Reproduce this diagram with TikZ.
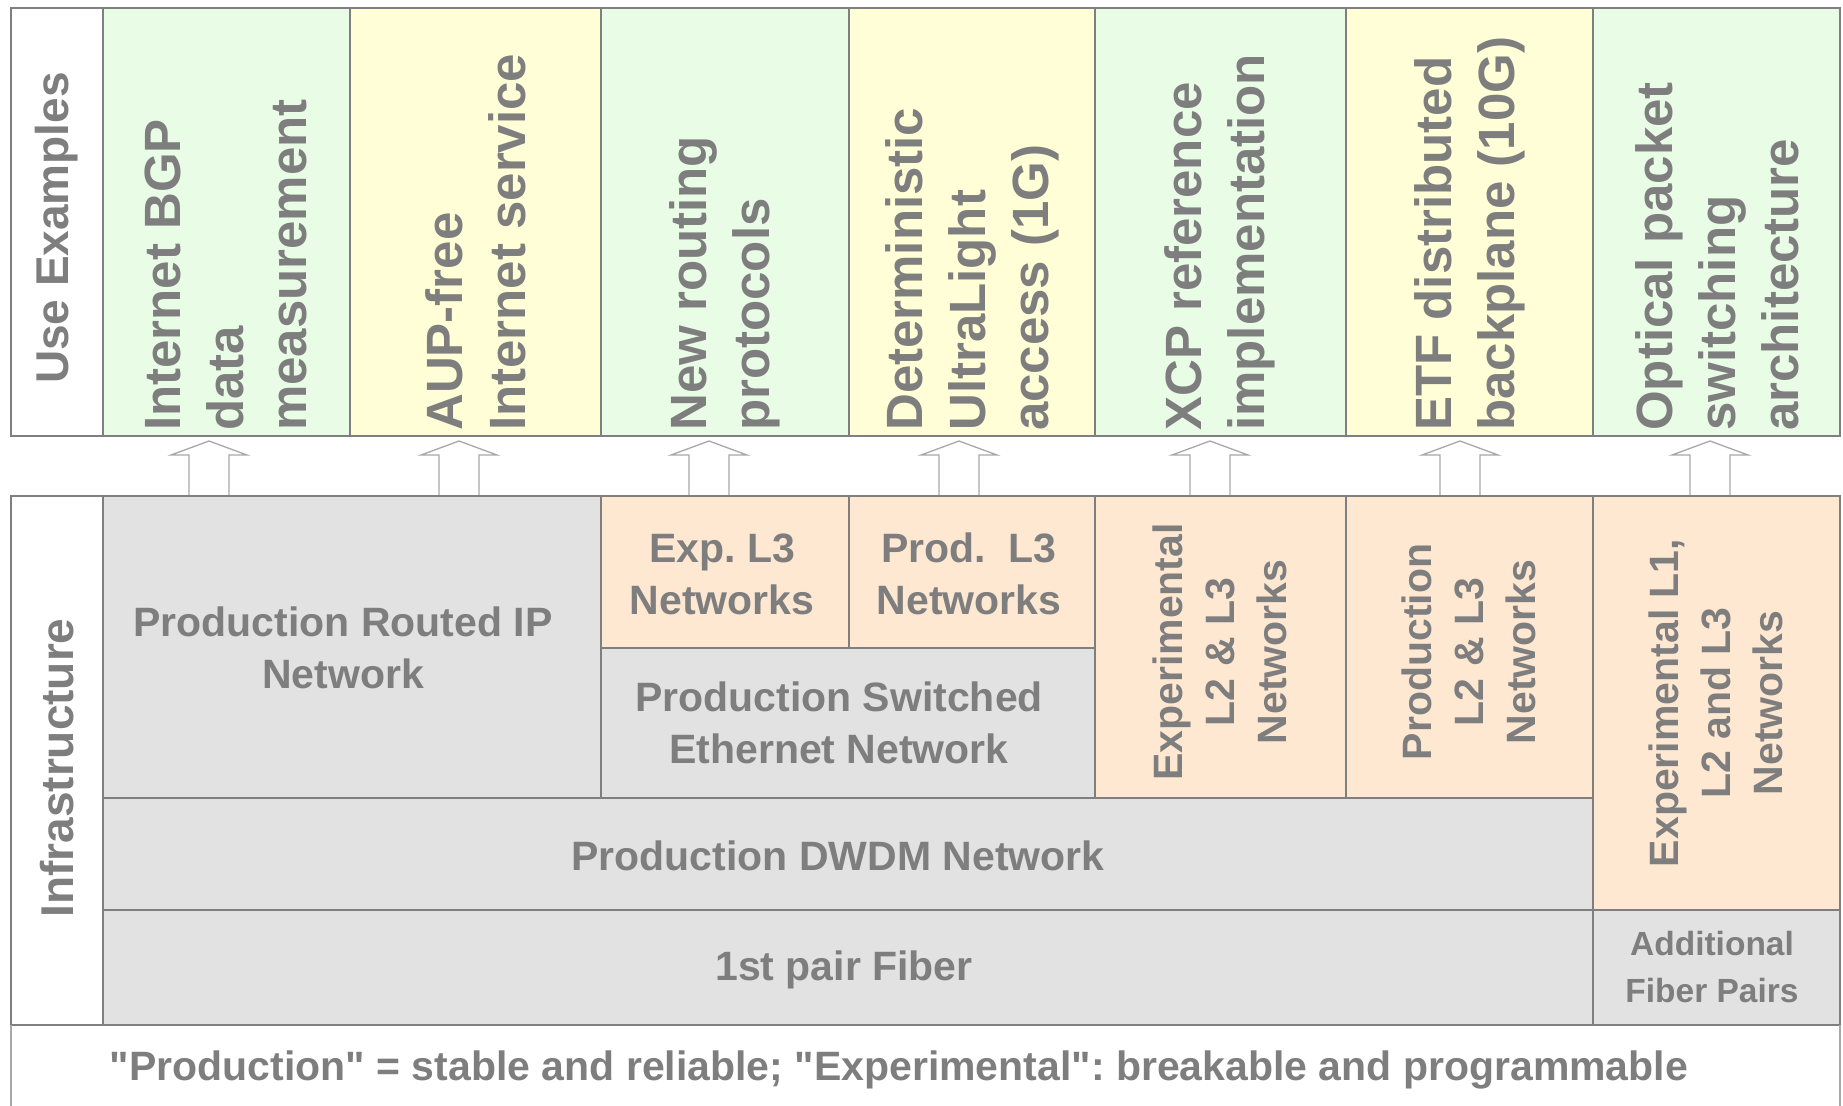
\documentclass[tikz,border=0pt]{standalone}
\usepackage{fontspec}
\setmainfont{Liberation Sans}
\definecolor{lg}{HTML}{7F7F7F}
\definecolor{tg}{HTML}{7E7E7E}
\definecolor{grn}{HTML}{E8FCE6}
\definecolor{yel}{HTML}{FFFED6}
\definecolor{pch}{HTML}{FFE8D2}
\definecolor{gry}{HTML}{E2E2E2}
\definecolor{ag}{HTML}{A8A8A8}
\frenchspacing
\begin{document}
\begin{tikzpicture}[x=1pt,y=-1pt,
  cellline/.style={draw=lg, line width=2.8pt},
  uselbl/.style={text=tg, font=\bfseries\fontsize{51}{63}\selectfont, align=left, inner sep=0pt, rotate=90, anchor=west},
  sidelbl/.style={text=tg, font=\bfseries\fontsize{46}{56}\selectfont, inner sep=0pt, rotate=90},
  inflbl/.style={text=tg, font=\bfseries\fontsize{41}{52}\selectfont, align=center, inner sep=0pt},
  vinflbl/.style={inflbl, rotate=90},
  smalllbl/.style={text=tg, font=\bfseries\fontsize{33.5}{47}\selectfont, align=center, inner sep=0pt},
  blockarrow/.style={draw=ag, line width=1.3pt, fill=white}
]
\useasboundingbox (0,0) rectangle (1843,1105);
\fill[white] (0,0) rectangle (1843,1105);

% ---------- Use examples band ----------
\filldraw[cellline, fill=white] (11,8) rectangle (103,436);
\filldraw[cellline, fill=grn] (103,8) rectangle (350,436);
\filldraw[cellline, fill=yel] (350,8) rectangle (601,436);
\filldraw[cellline, fill=grn] (601,8) rectangle (849,436);
\filldraw[cellline, fill=yel] (849,8) rectangle (1095,436);
\filldraw[cellline, fill=grn] (1095,8) rectangle (1346,436);
\filldraw[cellline, fill=yel] (1346,8) rectangle (1593,436);
\filldraw[cellline, fill=grn] (1593,8) rectangle (1840,436);

\node[sidelbl] (useex) at (57,228) {Use Examples};
\node[uselbl] (u1) at (226,431) {Internet BGP\\data\\measurement};
\node[uselbl] (u2) at (476,431) {AUP-free\\Internet service};
\node[uselbl] (u3) at (725,431) {New routing\\protocols};
\node[uselbl] (u4) at (972,431) {Deterministic\\UltraLight\\access (1G)};
\node[uselbl] (u5) at (1220,431) {XCP reference\\implementation};
\node[uselbl] (u6) at (1470,431) {ETF distributed\\backplane (10G)};
\node[uselbl] (u7) at (1717,431) {Optical packet\\switching\\architecture};

% ---------- block arrows ----------
\foreach \ax in {209,459,709,959,1210,1460,1710}{
  \draw[blockarrow] (\ax-20,496) -- (\ax-20,455) -- (\ax-38,455) -- (\ax,441)
     -- (\ax+38,455) -- (\ax+20,455) -- (\ax+20,496);
}

% ---------- Infrastructure band ----------
\filldraw[cellline, fill=white] (11,496) rectangle (103,1025);
\filldraw[cellline, fill=gry] (103,496) rectangle (601,798);
\filldraw[cellline, fill=pch] (601,496) rectangle (849,648);
\filldraw[cellline, fill=pch] (849,496) rectangle (1095,648);
\filldraw[cellline, fill=gry] (601,648) rectangle (1095,798);
\filldraw[cellline, fill=pch] (1095,496) rectangle (1346,798);
\filldraw[cellline, fill=pch] (1346,496) rectangle (1593,798);
\filldraw[cellline, fill=pch] (1593,496) rectangle (1840,910);
\filldraw[cellline, fill=gry] (103,798) rectangle (1593,910);
\filldraw[cellline, fill=gry] (103,910) rectangle (1593,1025);
\filldraw[cellline, fill=gry] (1593,910) rectangle (1840,1025);

% footer frame
\draw[draw=ag, line width=1.5pt] (11,1025) -- (11,1110);
\draw[draw=ag, line width=1.5pt] (1840,1025) -- (1840,1110);

\node[sidelbl] (infra) at (57,768) {Infrastructure};
\node[inflbl] (prip) at (343,648) {Production Routed IP\\Network};
\node[inflbl] (expl3) at (722,574) {Exp. L3\\Networks};
\node[inflbl] (prodl3) at (969,574) {Prod.~~L3\\Networks};
\node[inflbl] (psw) at (839,723) {Production Switched\\Ethernet Network};
\node[vinflbl] (expl23) at (1220,652) {Experimental\\L2 \& L3\\Networks};
\node[vinflbl] (prodl23) at (1469,652) {Production\\L2 \& L3\\Networks};
\node[vinflbl] (expl123) at (1716,703) {Experimental L1,\\L2 and L3\\Networks};
\node[inflbl] (dwdm) at (838,856) {Production DWDM Network};
\node[inflbl] (fiber1) at (844,970) {1st pair Fiber};
\node[smalllbl] (addfib) at (1712,967) {Additional\\Fiber Pairs};
\node[inflbl] (foot) at (899,1070) {\textquotedbl Production\textquotedbl\ = stable and reliable; \textquotedbl Experimental\textquotedbl: breakable and programmable};
\end{tikzpicture}
\end{document}
